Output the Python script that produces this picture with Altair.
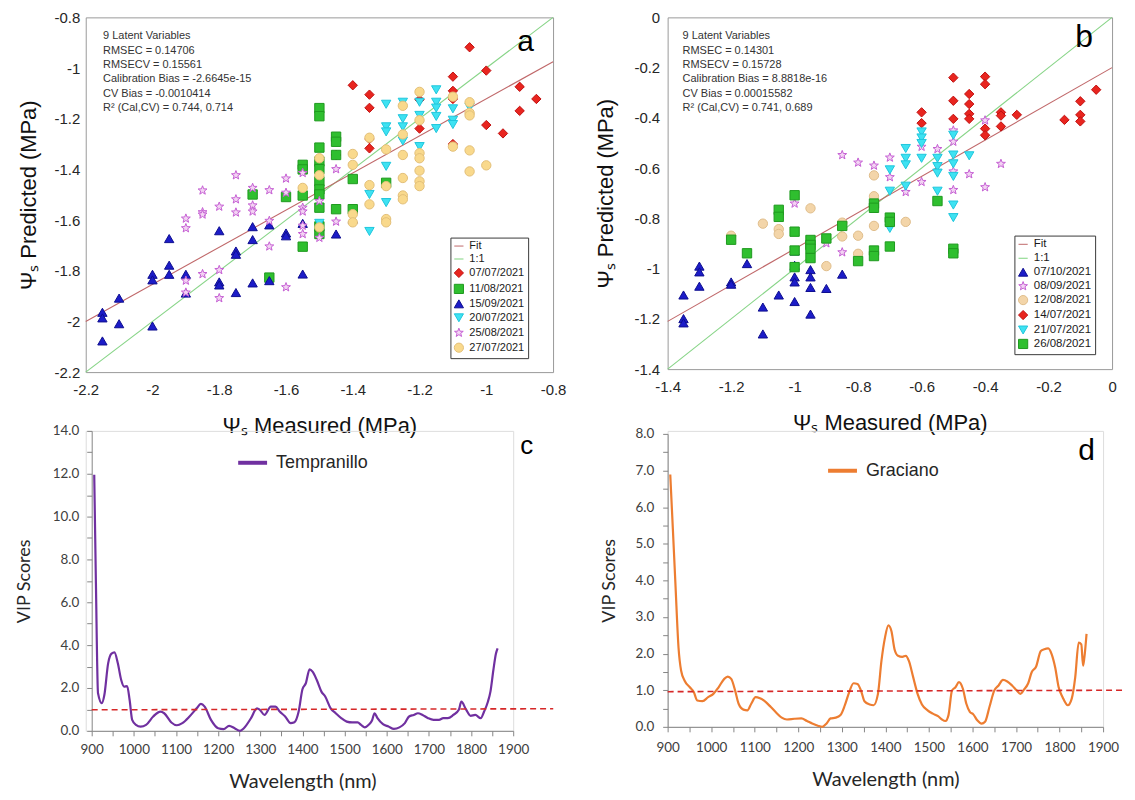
import math
import altair as alt
import pandas as pd

SANS = "Liberation Sans"
CAL = "Lato"

# ---------------- Panel a data (Tempranillo) ----------------
a_groups = ["07/07/2021", "11/08/2021", "15/09/2021", "20/07/2021", "25/08/2021", "27/07/2021"]
a_0707_x = [-1.05, -1.0, -1.1, -1.4, -1.35, -1.1, -1.1, -0.9, -0.85, -1.35, -0.9, -1.0, -0.95, -1.2, -1.2, -1.35, -1.35, -1.45, -1.1]
a_0707_y = [-0.918, -1.010, -1.034, -1.068, -1.105, -1.090, -1.122, -1.074, -1.122, -1.157, -1.169, -1.225, -1.258, -1.239, -1.125, -1.317, -1.28, -1.343, -1.30]
a_1108_x = [-1.5, -1.5, -1.45, -1.45, -1.5, -1.45, -1.55, -1.55, -1.5, -1.5, -1.5, -1.5, -1.5, -1.5, -1.55, -1.6, -1.7, -1.4, -1.45, -1.4, -1.3, -1.5, -1.55, -1.65, -1.5]
a_1108_y = [-1.158, -1.19, -1.271, -1.291, -1.314, -1.343, -1.382, -1.40, -1.369, -1.399, -1.447, -1.479, -1.499, -1.551, -1.503, -1.509, -1.499, -1.438, -1.557, -1.557, -1.453, -1.655, -1.705, -1.827, -1.625]
a_1509_x = [-2.15, -2.15, -2.15, -2.1, -2.1, -2.0, -2.0, -2.0, -1.95, -1.95, -1.95, -1.9, -1.9, -1.8, -1.8, -1.8, -1.75, -1.75, -1.75, -1.7, -1.7, -1.7, -1.65, -1.65, -1.6, -1.6, -1.55, -1.55, -1.45, -1.4]
a_1509_y = [-1.964, -1.986, -2.077, -1.908, -2.009, -1.814, -1.836, -2.018, -1.673, -1.778, -1.814, -1.814, -1.888, -1.642, -1.844, -1.856, -1.722, -1.735, -1.886, -1.626, -1.677, -1.848, -1.619, -1.839, -1.651, -1.662, -1.613, -1.813, -1.655, -1.596]
a_2007_x = [-1.3, -1.3, -1.3, -1.3, -1.3, -1.35, -1.35, -1.25, -1.25, -1.25, -1.25, -1.2, -1.2, -1.2, -1.15, -1.15, -1.15, -1.15, -1.15, -1.1, -1.1, -1.1, -1.05, -1.5]
a_2007_y = [-1.143, -1.232, -1.252, -1.388, -1.531, -1.499, -1.645, -1.135, -1.20, -1.232, -1.288, -1.135, -1.187, -1.31, -1.086, -1.135, -1.158, -1.191, -1.239, -1.161, -1.206, -1.223, -1.155, -1.613]
a_2508_x = [-1.75, -1.85, -1.6, -1.7, -1.65, -1.6, -1.75, -1.8, -1.7, -1.7, -1.75, -1.85, -1.85, -1.9, -1.9, -1.65, -1.55, -1.55, -1.55, -1.55, -1.55, -1.5, -1.5, -1.45, -1.45, -1.65, -1.85, -1.8, -1.9, -1.9, -1.8, -1.6]
a_2508_y = [-1.423, -1.483, -1.436, -1.473, -1.482, -1.492, -1.518, -1.547, -1.542, -1.566, -1.570, -1.569, -1.578, -1.594, -1.632, -1.603, -1.414, -1.551, -1.566, -1.622, -1.655, -1.525, -1.670, -1.399, -1.606, -1.704, -1.813, -1.797, -1.839, -1.886, -1.908, -1.865]
a_2707_x = [-1.2, -1.25, -1.1, -1.05, -1.05, -1.05, -1.2, -1.25, -1.35, -1.3, -1.25, -1.2, -1.2, -1.1, -1.05, -1.0, -1.05, -1.4, -1.4, -1.5, -1.5, -1.55, -1.35, -1.35, -1.3, -1.25, -1.25, -1.25, -1.2, -1.2, -1.2, -1.4, -1.4, -1.3, -1.3, -1.5]
a_2707_y = [-1.094, -1.149, -1.113, -1.135, -1.177, -1.187, -1.206, -1.262, -1.275, -1.321, -1.343, -1.336, -1.356, -1.310, -1.325, -1.384, -1.408, -1.339, -1.382, -1.356, -1.423, -1.473, -1.462, -1.538, -1.466, -1.434, -1.503, -1.518, -1.405, -1.447, -1.466, -1.577, -1.609, -1.596, -1.609, -1.629]
a_fit_x = [-2.2, -0.8]
a_fit_y = [-2.0, -0.975]
a_one = [-2.2, -0.8]
a_ticks = [-2.2, -2, -1.8, -1.6, -1.4, -1.2, -1, -0.8]
a_note = ("9 Latent Variables\nRMSEC = 0.14706\nRMSECV = 0.15561\nCalibration Bias = -2.6645e-15\n"
          "CV Bias = -0.0010414\nR\u00b2 (Cal,CV) = 0.744, 0.714")

# ---------------- Panel b data (Graciano) ----------------
b_groups = ["07/10/2021", "08/09/2021", "12/08/2021", "14/07/2021", "21/07/2021", "26/08/2021"]
b_0710_x = [-1.35, -1.35, -1.35, -1.3, -1.3, -1.3, -1.2, -1.2, -1.15, -1.1, -1.1, -1.05, -1.0, -1.0, -1.0, -1.0, -1.0, -0.95, -0.95, -0.95, -0.95, -0.9, -0.85]
b_0710_y = [-1.105, -1.199, -1.216, -0.990, -1.013, -1.070, -1.053, -1.062, -0.980, -1.153, -1.260, -1.105, -0.987, -1.033, -1.053, -1.131, -0.93, -1.004, -1.033, -1.075, -1.181, -1.079, -1.022]
b_0809_x = [-0.85, -0.8, -0.75, -0.7, -0.7, -0.65, -0.6, -0.6, -0.55, -0.5, -0.5, -0.5, -0.5, -0.45, -0.4, -0.4, -0.35, -1.0, -0.9, -0.85]
b_0809_y = [-0.548, -0.578, -0.590, -0.558, -0.636, -0.695, -0.655, -0.515, -0.524, -0.450, -0.495, -0.613, -0.687, -0.624, -0.410, -0.676, -0.583, -0.741, -0.899, -0.935]
b_1208_x = [-1.2, -1.1, -1.05, -1.05, -0.95, -0.9, -0.85, -0.85, -0.8, -0.8, -0.75, -0.75, -0.75, -0.65]
b_1208_y = [-0.869, -0.821, -0.843, -0.862, -0.760, -0.990, -0.817, -0.872, -0.869, -0.941, -0.629, -0.712, -0.830, -0.814]
b_1407_x = [-0.6, -0.6, -0.5, -0.5, -0.5, -0.45, -0.45, -0.45, -0.45, -0.4, -0.4, -0.4, -0.4, -0.35, -0.35, -0.35, -0.3, -0.15, -0.1, -0.1, -0.1, -0.05]
b_1407_y = [-0.378, -0.421, -0.240, -0.332, -0.404, -0.305, -0.345, -0.384, -0.404, -0.236, -0.266, -0.443, -0.469, -0.378, -0.391, -0.434, -0.388, -0.408, -0.334, -0.388, -0.414, -0.288]
b_2107_x = [-0.6, -0.6, -0.6, -0.6, -0.65, -0.65, -0.65, -0.65, -0.55, -0.55, -0.55, -0.55, -0.5, -0.5, -0.5, -0.5, -0.5, -0.5, -0.45, -0.7, -0.7, -0.7]
b_2107_y = [-0.456, -0.480, -0.502, -0.561, -0.522, -0.561, -0.587, -0.672, -0.561, -0.594, -0.620, -0.692, -0.469, -0.548, -0.583, -0.633, -0.747, -0.797, -0.551, -0.607, -0.692, -0.840]
b_2608_x = [-1.2, -1.15, -1.05, -1.05, -1.0, -1.0, -1.0, -1.0, -0.95, -0.95, -0.95, -0.95, -0.9, -0.85, -0.8, -0.75, -0.75, -0.75, -0.75, -0.7, -0.7, -0.7, -0.55, -0.5, -0.5]
b_2608_y = [-0.885, -0.939, -0.766, -0.794, -0.708, -0.853, -0.928, -0.994, -0.886, -0.906, -0.921, -0.958, -0.880, -0.830, -0.970, -0.741, -0.758, -0.928, -0.950, -0.797, -0.814, -0.912, -0.731, -0.921, -0.939]
b_fit_x = [-1.4, 0.0]
b_fit_y = [-1.21, -0.2]
b_one = [-1.4, 0.0]
b_ticks = [-1.4, -1.2, -1, -0.8, -0.6, -0.4, -0.2, 0]
b_note = ("9 Latent Variables\nRMSEC = 0.14301\nRMSECV = 0.15728\nCalibration Bias = 8.8818e-16\n"
          "CV Bias = 0.00015582\nR\u00b2 (Cal,CV) = 0.741, 0.689")

# ---------------- Panel c / d data (VIP scores) ----------------
c_wl = [906, 910, 915, 924, 930, 939, 947, 954, 962, 970, 977, 984, 990, 996, 1005, 1016, 1029, 1046, 1063, 1072,
        1089, 1102, 1115, 1132, 1149, 1159, 1168, 1183, 1200, 1213, 1226, 1239, 1252, 1261, 1278, 1292, 1299, 1310,
        1325, 1336, 1346, 1359, 1372, 1381, 1391, 1400, 1408, 1417, 1424, 1434, 1445, 1454, 1467, 1479, 1492, 1505,
        1518, 1531, 1539, 1548, 1557, 1565, 1571, 1578, 1591, 1604, 1617, 1630, 1643, 1653, 1664, 1674, 1685, 1698,
        1711, 1724, 1734, 1745, 1758, 1771, 1777, 1788, 1799, 1810, 1823, 1831, 1840, 1846, 1853, 1859, 1863]
c_vip = [11.95, 6.9, 1.75, 1.29, 1.67, 3.15, 3.6, 3.66, 3.15, 2.37, 2.06, 2.09, 1.44, 0.51, 0.28, 0.2, 0.28, 0.67, 0.9, 0.82,
         0.39, 0.26, 0.36, 0.67, 1.05, 1.26, 1.13, 0.51, 0.12, 0.08, 0.23, 0.12, 0.0, 0.12, 0.59, 1.05, 0.98, 0.74,
         1.13, 1.13, 0.9, 0.67, 0.36, 0.4, 0.9, 1.94, 2.22, 2.87, 2.76, 2.37, 1.83, 1.6, 1.05, 0.82, 0.59, 0.43,
         0.39, 0.39, 0.28, 0.16, 0.28, 0.48, 0.82, 0.59, 0.31, 0.2, 0.09, 0.16, 0.36, 0.67, 0.74, 0.82, 0.74, 0.59,
         0.51, 0.51, 0.59, 0.59, 0.74, 0.98, 1.36, 1.0, 0.7, 0.74, 0.59, 0.9, 1.36, 1.83, 2.84, 3.6, 3.85]
d_wl = [906, 912, 918, 925, 931, 939, 951, 960, 968, 980, 993, 1005, 1017, 1030, 1038, 1046, 1055, 1063, 1074, 1083,
        1092, 1102, 1112, 1125, 1137, 1150, 1162, 1174, 1191, 1207, 1220, 1232, 1245, 1255, 1265, 1274, 1286, 1297,
        1307, 1317, 1327, 1336, 1344, 1352, 1364, 1373, 1383, 1391, 1399, 1407, 1414, 1421, 1429, 1439, 1447, 1454,
        1464, 1474, 1484, 1497, 1509, 1521, 1530, 1538, 1545, 1553, 1561, 1569, 1578, 1586, 1594, 1602, 1611, 1621,
        1629, 1639, 1650, 1660, 1670, 1680, 1691, 1702, 1710, 1718, 1728, 1736, 1746, 1757, 1765, 1774, 1782, 1790,
        1798, 1807, 1819, 1828, 1836, 1844, 1850, 1854, 1857, 1862]
d_vip = [6.89, 5.4, 3.87, 2.16, 1.53, 1.26, 1.08, 0.95, 0.72, 0.7, 0.81, 0.9, 1.08, 1.31, 1.37, 1.31, 0.99, 0.63, 0.47, 0.45,
         0.63, 0.81, 0.78, 0.68, 0.54, 0.38, 0.25, 0.2, 0.22, 0.23, 0.16, 0.09, 0.03, 0.0, 0.09, 0.23, 0.25, 0.32,
         0.59, 0.95, 1.19, 1.17, 0.99, 0.7, 0.61, 0.59, 0.9, 1.8, 2.43, 2.77, 2.61, 2.12, 1.94, 1.91, 1.94, 1.8,
         1.35, 0.9, 0.61, 0.45, 0.36, 0.29, 0.2, 0.16, 0.32, 0.99, 1.08, 1.22, 1.04, 0.63, 0.41, 0.34, 0.18, 0.09,
         0.14, 0.54, 0.99, 1.13, 1.28, 1.24, 1.13, 0.99, 0.9, 1.01, 1.19, 1.49, 1.64, 2.07, 2.12, 2.14, 1.98, 1.62,
         1.08, 0.81, 0.59, 0.77, 1.35, 2.3, 2.25, 1.67, 1.89, 2.54]
c_thr_wl = [900, 1995]
c_thr_v = [0.98, 1.03]
d_thr_wl = [900, 1945]
d_thr_v = [0.96, 1.0]


def star_path(n=5, r_out=1.0, r_in=0.42):
    pts = []
    for k in range(2 * n):
        ang = math.radians(-90 + 180.0 * k / n)
        r = r_out if k % 2 == 0 else r_in
        pts.append(f"{r * math.cos(ang):.3f},{r * math.sin(ang):.3f}")
    return "M" + " L".join(pts) + " Z"


STAR = star_path()


def build_points(groups, series, field):
    rows = []
    for g, (xs, ys) in zip(groups, series):
        for x, y in zip(xs, ys):
            rows.append({"mx": x, "py": y, field: g})
    return pd.DataFrame(rows)


def scatter_panel(pts, field, fit_x, fit_y, one, note, note_xy, tag, tag_xy, tag_size,
                  xdom, ydom, ticks, w, h, dom, shapes, fills, strokes,
                  legx, legy, leg_font, xlabpad, xtitlepad, ylabpad, ytitlepad):
    sx = alt.Scale(domain=xdom, nice=False, zero=False)
    sy = alt.Scale(domain=ydom, nice=False, zero=False)
    common = dict(domain=False, ticks=False, tickSize=0, grid=False, labelFont=SANS, labelFontSize=15,
                  labelColor="#262626", labelFlush=False, labelOverlap=False, titleFont=SANS,
                  titleFontSize=22, titleFontWeight="normal", titleColor="#111111",
                  labelExpr="toString(datum.value)", values=ticks)
    ax = alt.Axis(labelPadding=xlabpad, titlePadding=xtitlepad, **common)
    ay = alt.Axis(labelPadding=ylabpad, titlePadding=ytitlepad, **common)
    X = alt.X("mx:Q", scale=sx, axis=ax, title="\u03a8\u209b Measured (MPa)")
    Y = alt.Y("py:Q", scale=sy, axis=ay, title="\u03a8\u209b Predicted (MPa)")
    leg = alt.Legend(title=None, orient="none", legendX=legx, legendY=legy, fillColor="white",
                     strokeColor="#3a3a3a", padding=3, rowPadding=1.0, labelOffset=5, labelFont=SANS,
                     labelFontSize=leg_font, labelColor="#1a1a1a", symbolSize=85, symbolStrokeWidth=1)
    one_df = pd.DataFrame({"mx": one, "py": one})
    fit_df = pd.DataFrame({"mx": fit_x, "py": fit_y})
    l_one = alt.Chart(one_df).mark_line(color="#86d486", strokeWidth=1.1).encode(x=X, y=Y)
    l_fit = alt.Chart(fit_df).mark_line(color="#c0686a", strokeWidth=1.1).encode(x=X, y=Y)
    p = alt.Chart(pts).mark_point(filled=True, opacity=1, size=88, strokeWidth=1).encode(
        x=X, y=Y,
        shape=alt.Shape(f"{field}:N", scale=alt.Scale(domain=dom, range=shapes), legend=leg),
        fill=alt.Fill(f"{field}:N", scale=alt.Scale(domain=dom, range=fills), legend=leg),
        stroke=alt.Stroke(f"{field}:N", scale=alt.Scale(domain=dom, range=strokes), legend=leg),
    )
    note_df = pd.DataFrame({"mx": [note_xy[0]], "py": [note_xy[1]], "t": [note]})
    t_note = alt.Chart(note_df).mark_text(align="left", baseline="top", lineBreak="\n", lineHeight=14.4,
                                          font=SANS, fontSize=11, color="#333333").encode(x=X, y=Y, text="t:N")
    tag_df = pd.DataFrame({"mx": [tag_xy[0]], "py": [tag_xy[1]], "t": [tag]})
    t_tag = alt.Chart(tag_df).mark_text(align="center", baseline="middle", font=SANS, fontSize=tag_size,
                                        color="#000000").encode(x=X, y=Y, text="t:N")
    return alt.layer(l_one, l_fit, p, t_note, t_tag).properties(
        width=w, height=h, view=alt.ViewBackground(stroke="#9a9a9a", strokeWidth=1))


def vip_panel(wl, vip, thr_wl, thr_v, name, color, w, h, xrange, yrange, ymax, yvals, ylabexpr, yoffset,
              legx, legy, tag, tag_xy, tag_size, xlabpad, xtitlepad, ylabpad, ytitlepad):
    sx = alt.Scale(domain=[900, 1900], nice=False, zero=False, range=xrange)
    sy = alt.Scale(domain=[0, ymax], nice=False, zero=False, range=yrange)
    common = dict(domainColor="#868686", tickColor="#868686", tickSize=5, grid=False, labelFont=CAL,
                  labelFontSize=13.5, labelColor="#404040", labelFlush=False, labelOverlap=False,
                  titleFont=CAL, titleFontWeight="normal", titleColor="#262626")
    ax = alt.Axis(values=list(range(900, 1901, 50)),
                  labelExpr="datum.value % 100 === 0 ? toString(datum.value) : ''",
                  labelPadding=xlabpad, titlePadding=xtitlepad, titleFontSize=20, **common)
    ay = alt.Axis(values=yvals, labelExpr=ylabexpr, offset=yoffset,
                  labelPadding=ylabpad, titlePadding=ytitlepad, titleFontSize=18, **common)
    X = alt.X("wl:Q", scale=sx, axis=ax, title="Wavelength (nm)")
    Y = alt.Y("vip:Q", scale=sy, axis=ay, title="VIP Scores")
    df = pd.DataFrame({"wl": wl, "vip": vip, "var": name})
    leg = alt.Legend(title=None, orient="none", legendX=legx, legendY=legy, symbolType="stroke",
                     symbolSize=841, symbolStrokeWidth=4, labelFont=SANS, labelFontSize=18,
                     labelColor="#262626", labelOffset=7, padding=0)
    curve = alt.Chart(df).mark_line(strokeWidth=2.2, interpolate="monotone").encode(
        x=X, y=Y, stroke=alt.Stroke("var:N", scale=alt.Scale(domain=[name], range=[color]), legend=leg))
    thr_df = pd.DataFrame({"wl": thr_wl, "vip": thr_v})
    thr = alt.Chart(thr_df).mark_line(color="#d62828", strokeWidth=1.6, strokeDash=[6, 4]).encode(x=X, y=Y)
    tag_df = pd.DataFrame({"wl": [tag_xy[0]], "vip": [tag_xy[1]], "t": [tag]})
    t_tag = alt.Chart(tag_df).mark_text(align="center", baseline="middle", font=SANS, fontSize=tag_size,
                                        color="#000000").encode(x=X, y=Y, text="t:N")
    return alt.layer(curve, thr, t_tag).properties(width=w, height=h)


pts_a = build_points(a_groups, [(a_0707_x, a_0707_y), (a_1108_x, a_1108_y), (a_1509_x, a_1509_y),
                                (a_2007_x, a_2007_y), (a_2508_x, a_2508_y), (a_2707_x, a_2707_y)], "date_a")
pts_b = build_points(b_groups, [(b_0710_x, b_0710_y), (b_0809_x, b_0809_y), (b_1208_x, b_1208_y),
                                (b_1407_x, b_1407_y), (b_2107_x, b_2107_y), (b_2608_x, b_2608_y)], "date_b")

dom_a = ["Fit", "1:1"] + a_groups
shapes_a = ["stroke", "stroke", "diamond", "square", "triangle-up", "triangle-down", STAR, "circle"]
fills_a = ["transparent", "transparent", "#e8251f", "#2fbf2f", "#1c1cc8", "#3ee2f2", "#f3d3f3", "#f9d98c"]
strokes_a = ["#c0686a", "#7fd47f", "#c01010", "#1f9a1f", "#0e0e90", "#1fc6dc", "#c55fd3", "#e2bf78"]

dom_b = ["Fit", "1:1"] + b_groups
shapes_b = ["stroke", "stroke", "triangle-up", STAR, "circle", "diamond", "triangle-down", "square"]
fills_b = ["transparent", "transparent", "#1c1cc8", "#f3d3f3", "#f3d5a9", "#e8251f", "#3ee2f2", "#2fbf2f"]
strokes_b = ["#c0686a", "#7fd47f", "#0e0e90", "#c55fd3", "#dfbd8b", "#c01010", "#1fc6dc", "#1f9a1f"]

pa = scatter_panel(pts_a, "date_a", a_fit_x, a_fit_y, a_one, a_note, (-2.148, -0.851), "a", (-0.882, -0.898), 30,
                   [-2.2, -0.8], [-2.2, -0.8], a_ticks, 469, 356, dom_a, shapes_a, fills_a, strokes_a,
                   366, 221, 11, 10, 19, 6, 14)
pb = scatter_panel(pts_b, "date_b", b_fit_x, b_fit_y, b_one, b_note, (-1.353, -0.052), "b", (-0.088, -0.079), 32,
                   [-1.4, 0.0], [-1.4, 0.0], b_ticks, 446, 353, dom_b, shapes_b, fills_b, strokes_b,
                   348, 219, 11.5, 10, 19, 8, 16)

pc = vip_panel(c_wl, c_vip, c_thr_wl, c_thr_v, "Tempranillo", "#7030a0", 429, 301, [6, 429], [301, 0], 14,
               list(range(0, 15)), "datum.value % 2 === 0 ? format(datum.value, '.1f') : ''", -6,
               151, 15.5, "c", (1932, 13.3), 26, 7, 15, 8, 19)
pd_ = vip_panel(d_wl, d_vip, d_thr_wl, d_thr_v, "Graciano", "#ed7d31", 437, 297, [0, 437], [297, 3], 8,
                [v / 2 for v in range(0, 17)], "datum.value % 1 === 0 ? format(datum.value, '.1f') : ''", 0,
                159, 23.5, "d", (1862, 7.54), 30, 9, 15, 9, 16)

res = dict(x="independent", y="independent", shape="independent", fill="independent", stroke="independent")
col1 = alt.vconcat(pa, pc, spacing=59, bounds="flush").resolve_scale(**res)
col2 = alt.vconcat(pb, pd_, spacing=62, bounds="flush").resolve_scale(**res)
chart = (alt.concat(col1, col2, columns=2, spacing=27, align="each")
         .resolve_scale(**res)
         .properties(padding={"left": 6, "top": 0, "right": 0, "bottom": 0})
         .configure_view(stroke="transparent")
         .configure(background="white"))

chart.save("out.html", embed_options={"renderer": "svg", "actions": False})
